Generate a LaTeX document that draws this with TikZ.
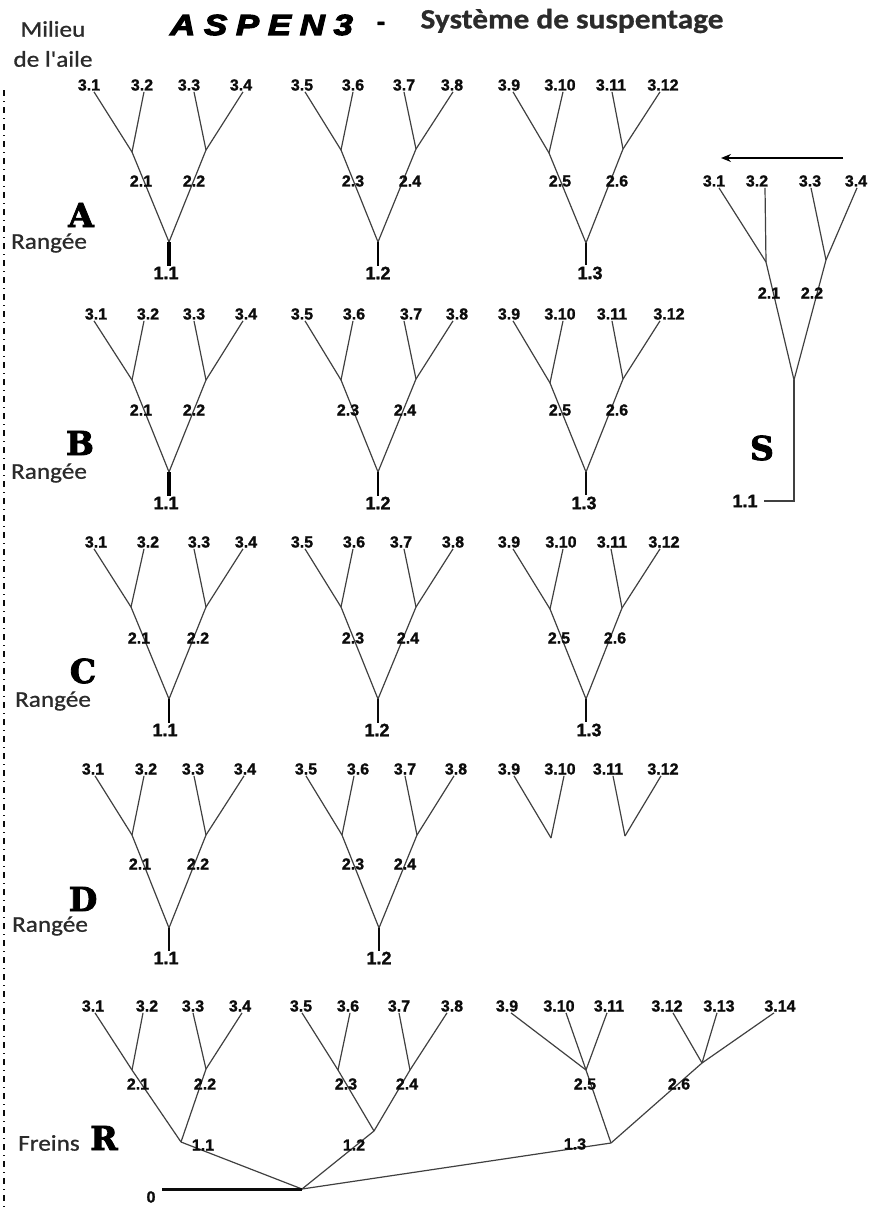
\documentclass[tikz,border=0pt]{standalone}
\usepackage{xcolor}
\usepackage{fontspec}
\usepackage{tikz}
\usetikzlibrary{arrows.meta}
\setmainfont{Liberation Sans}
\newfontfamily\aileFont[FakeStretch=1.12,FakeBold=0.9]{Carlito}
\newfontfamily\systemeFont[FakeStretch=1.12,FakeBold=0.8]{Carlito Bold}
\newfontfamily\rangFont[FakeBold=2.5]{DejaVu Serif Bold}
\newfontfamily\aspenFont[LetterSpace=30,FakeStretch=1.2,FakeBold=4]{Liberation Sans Bold Italic}
\newfontfamily\numFont[FakeBold=1.2]{Liberation Sans Bold}
\definecolor{aspenInk}{HTML}{0C0C0C}
\definecolor{aspenLine}{HTML}{404040}
\definecolor{aspenText}{HTML}{2B2B2B}
\tikzset{
  feuille/.style={font=\numFont\fontsize{16}{16}\selectfont, text=aspenInk, inner sep=1pt},
  racine/.style={font=\numFont\fontsize{18}{18}\selectfont, text=aspenInk, inner sep=1pt},
  legende/.style={font=\aileFont\fontsize{22.5}{24}\selectfont, text=aspenText, inner sep=0pt},
  rangee/.style={font=\rangFont\fontsize{33}{33}\selectfont, text=black, inner sep=0pt},
  suspente/.style={draw=aspenLine, line width=1.2pt},
  baseForte/.style={draw=black, line width=3.8pt},
  baseMoyenne/.style={draw=black, line width=2.8pt},
  baseFine/.style={draw=aspenInk, line width=2pt}
}
% Top row of lines: y of the labels, then name/text/x/shift/junction
\newcommand{\feuilles}[2]{
  \foreach \nom/\txt/\lx/\dx/\jn in {#2} {
    \node[feuille] (\nom) at (\lx,#1) {\txt};
    \draw[suspente] ([xshift=\dx pt]\nom.south) -- (\jn);
  }
}
\begin{document}
\begin{tikzpicture}[x=1pt,y=-1pt]
  \useasboundingbox (0,0) rectangle (872,1207);
  % Wing centre line
  \coordinate (axeHaut) at (4,90);
  \coordinate (axeBas) at (4,1207);
  \draw[aspenInk, line width=1.1pt, dash pattern=on 6pt off 5pt on 1pt off 5pt] (axeHaut) -- (axeBas);
  % Titles
  \node[font=\aspenFont\fontsize{29}{29}\selectfont, anchor=west, inner sep=0pt] (titreAspen) at (170,25) {ASPEN3};
  \node[font=\numFont\fontsize{26}{26}\selectfont, inner sep=0pt] (titreTiret) at (381,26) {-};
  \node[font=\systemeFont\fontsize{28}{28}\selectfont, text=aspenText, inner sep=0pt] (titreSysteme) at (572,21) {Système de suspentage};
  \node[legende] (milieu) at (53,29) {Milieu};
  \node[legende] (aile) at (53,59) {de l'aile};
  % Row names
  \foreach \nom/\lx/\ly/\txt in {lettreA/81/215/A, lettreB/80/443/B, lettreC/83/671/C, lettreD/83/899/D, lettreS/762/448/S, lettreR/104/1138/R}
    \node[rangee] (\nom) at (\lx,\ly) {\txt};
  \foreach \nom/\lx/\ly in {rangA/49/243, rangB/49/473, rangC/53/701, rangD/50/926}
    \node[legende] (\nom) at (\lx,\ly) {Rangée};
  \node[legende] (freins) at (49,1143) {Freins};
  % Junctions
  \foreach \jn/\jx/\jy in {
    ja21/132/152, ja22/206/150, ja23/341/150, ja24/416/149, ja25/549/153, ja26/623/149,
    jb21/132/380, jb22/206/380, jb23/341/380, jb24/416/379, jb25/550/383, jb26/623/379,
    jc21/131/607, jc22/206/607, jc23/341/607, jc24/416/607, jc25/550/609, jc26/622/608,
    jd21/132/835, jd22/206/835, jd23/342/835, jd24/417/835, jd25/551/838, jd26/625/836,
    jr21/132/1070, jr22/206/1069, jr23/338/1070, jr24/410/1070, jr25/586/1070, jr26/702/1063,
    js21/766/262, js22/826/260,
    ja11/169/242, ja12/378/242, ja13/586/243,
    jb11/169/472, jb12/378/472, jb13/586/472,
    jc11/169/699, jc12/378/699, jc13/586/699,
    jd11/169/928, jd12/379/928,
    jr11/181/1142, jr12/374/1131, jr13/611/1143, jr0/302/1189, jrBout/162/1189,
    js11/794/380, jsCoin/794/501}
    \coordinate (\jn) at (\jx,\jy);
  % Row A
  \feuilles{85}{a31/3.1/89/5/ja21, a32/3.2/142/2/ja21, a33/3.3/189/5/ja22, a34/3.4/241/2/ja22,
    a35/3.5/302/3/ja23, a36/3.6/353/0/ja23, a37/3.7/404/0/ja24, a38/3.8/452/1/ja24,
    a39/3.9/509/4/ja25, a310/3.10/560/3/ja25, a311/3.11/611/1/ja26, a312/3.12/663/-3/ja26}
  % Row B
  \feuilles{314}{b31/3.1/96/-2/jb21, b32/3.2/148/-4/jb21, b33/3.3/194/0/jb22, b34/3.4/246/-3/jb22,
    b35/3.5/302/3/jb23, b36/3.6/354/-1/jb23, b37/3.7/411/-7/jb24, b38/3.8/457/-4/jb24,
    b39/3.9/509/4/jb25, b310/3.10/560/3/jb25, b311/3.11/612/0/jb26, b312/3.12/669/-9/jb26}
  % Row C
  \feuilles{542}{c31/3.1/96/-2/jc21, c32/3.2/148/-4/jc21, c33/3.3/199/-5/jc22, c34/3.4/246/-3/jc22,
    c35/3.5/302/3/jc23, c36/3.6/354/-1/jc23, c37/3.7/401/3/jc24, c38/3.8/453/0/jc24,
    c39/3.9/509/4/jc25, c310/3.10/561/2/jc25, c311/3.11/612/-1/jc26, c312/3.12/664/-4/jc26}
  % Row D
  \feuilles{769}{d31/3.1/93/2/jd21, d32/3.2/146/-2/jd21, d33/3.3/193/1/jd22, d34/3.4/245/-1/jd22,
    d35/3.5/306/0/jd23, d36/3.6/358/-4/jd23, d37/3.7/405/0/jd24, d38/3.8/456/-2/jd24,
    d39/3.9/509/5/jd25, d310/3.10/560/4/jd25, d311/3.11/608/5/jd26, d312/3.12/663/-2/jd26}
  % Brake lines
  \feuilles{1006}{r31/3.1/93/2/jr21, r32/3.2/147/-4/jr21, r33/3.3/193/0/jr22, r34/3.4/240/2/jr22,
    r35/3.5/301/1/jr23, r36/3.6/348/2/jr23, r37/3.7/399/0/jr24, r38/3.8/452/-5/jr24,
    r39/3.9/507/4/jr25, r310/3.10/559/7/jr25, r311/3.11/609/-2/jr25,
    r312/3.12/667/6/jr26, r313/3.13/719/-2/jr26, r314/3.14/780/-6/jr26}
  % Row S
  \feuilles{181}{s31/3.1/714/5/js21, s32/3.2/757/8/js21, s33/3.3/810/1/js22, s34/3.4/856/1/js22}
  % Second level
  \foreach \haut/\bas in {ja21/ja11, ja22/ja11, ja23/ja12, ja24/ja12, ja25/ja13, ja26/ja13,
    jb21/jb11, jb22/jb11, jb23/jb12, jb24/jb12, jb25/jb13, jb26/jb13,
    jc21/jc11, jc22/jc11, jc23/jc12, jc24/jc12, jc25/jc13, jc26/jc13,
    jd21/jd11, jd22/jd11, jd23/jd12, jd24/jd12,
    jr21/jr11, jr22/jr11, jr23/jr12, jr24/jr12, jr25/jr13, jr26/jr13,
    jr11/jr0, jr12/jr0, jr13/jr0, js21/js11, js22/js11}
    \draw[suspente] (\haut) -- (\bas);
  \foreach \nom/\txt/\lx/\ly in {
    a21/2.1/141/181, a22/2.2/194/181, a23/2.3/353/181, a24/2.4/410/181, a25/2.5/560/181, a26/2.6/617/181,
    b21/2.1/141/410, b22/2.2/194/410, b23/2.3/348/410, b24/2.4/405/410, b25/2.5/560/410, b26/2.6/617/410,
    c21/2.1/139/638, c22/2.2/198/638, c23/2.3/353/638, c24/2.4/408/638, c25/2.5/559/638, c26/2.6/615/638,
    d21/2.1/140/864, d22/2.2/198/864, d23/2.3/353/864, d24/2.4/405/864,
    r21/2.1/138/1084, r22/2.2/205/1084, r23/2.3/346/1084, r24/2.4/407/1084, r25/2.5/585/1084, r26/2.6/679/1084,
    r11/1.1/203/1145, r12/1.2/354/1145, r13/1.3/575/1144,
    s21/2.1/769/293, s22/2.2/812/293}
    \node[feuille] (\nom) at (\lx,\ly) {\txt};
  % First level with its heavy riser
  \foreach \nom/\txt/\lx/\ly/\jn/\trait in {
    a11/1.1/166/273/ja11/baseForte, a12/1.2/378/273/ja12/baseMoyenne, a13/1.3/590/273/ja13/baseFine,
    b11/1.1/166/503/jb11/baseForte, b12/1.2/378/503/jb12/baseMoyenne, b13/1.3/584/503/jb13/baseFine,
    c11/1.1/165/730/jc11/baseMoyenne, c12/1.2/377/730/jc12/baseFine, c13/1.3/589/730/jc13/baseFine,
    d11/1.1/166/958/jd11/baseFine, d12/1.2/379/958/jd12/baseFine} {
    \node[racine] (\nom) at (\lx,\ly) {\txt};
    \draw[\trait] (\jn) -- (\jn |- \nom.north);
  }
  % Brake handle
  \node[feuille] (r0) at (151,1197) {0};
  \draw[baseFine, line width=3pt] (jrBout) -- (jr0);
  % Stabiliser line
  \node[racine] (s11) at (745,501) {1.1};
  \draw[suspente] (js11) -- (jsCoin) -- ([xshift=5pt]s11.east);
  % Direction of flight
  \coordinate (flecheD) at (843,158);
  \coordinate (flecheG) at (721,158);
  \draw[black, line width=1.3pt, -{Stealth[length=10pt,width=8pt]}] (flecheD) -- (flecheG);
\end{tikzpicture}
\end{document}
